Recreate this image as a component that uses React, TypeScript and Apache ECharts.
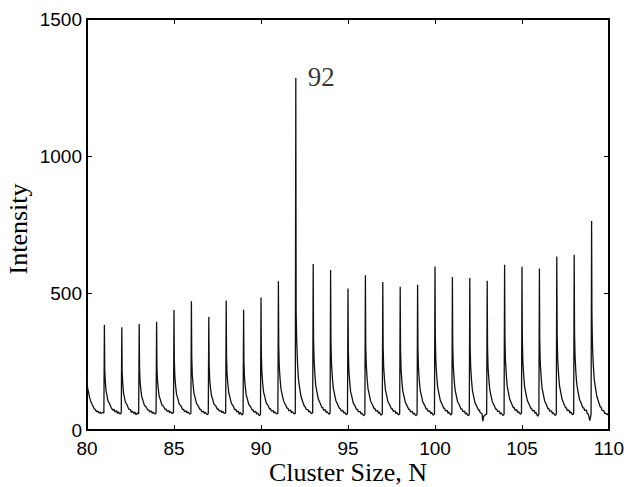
import { useEffect, useRef } from "react";
import * as echarts from "echarts";

// Cluster sizes with a peak, and the peak intensities
const peakSizes = [81, 82, 83, 84, 85, 86, 87, 88, 89, 90, 91, 92, 93, 94, 95, 96, 97, 98, 99, 100, 101, 102, 103, 104, 105, 106, 107, 108, 109];
const peakHeights = [384, 375, 387, 395, 438, 470, 412, 473, 439, 484, 543, 1285, 606, 584, 516, 565, 540, 523, 530, 597, 558, 555, 545, 603, 596, 589, 633, 640, 763];

// Offsets (in N) after each peak at which the decaying tail was read
const tailOffsets = [0.02, 0.05, 0.1, 0.15, 0.2, 0.3, 0.4, 0.5, 0.55, 0.6, 0.7, 0.75, 0.8, 0.9, 0.97];

// Signal at N = 80 and its tail (remnant of the peak at 79)
const startValue = 212;
const leadingTail = [160, 148, 135, 118, 108, 92, 80, 72, 66, 70, 62, 66, 60, 64, 62];

// Tail values after each peak (one row per peak, at tailOffsets)
const peakTails = [
  [220, 180, 140, 126, 106, 96, 80, 72, 76, 66, 70, 60, 66, 58, 63],
  [214, 175, 134, 120, 103, 92, 76, 74, 64, 69, 60, 66, 56, 62, 58],
  [226, 176, 144, 120, 111, 90, 84, 72, 74, 66, 69, 61, 65, 58, 62],
  [230, 180, 148, 122, 114, 92, 86, 74, 77, 68, 71, 63, 67, 60, 64],
  [252, 194, 157, 129, 119, 95, 88, 74, 76, 67, 70, 62, 66, 58, 61],
  [266, 203, 164, 133, 122, 96, 87, 74, 75, 66, 68, 60, 64, 56, 59],
  [240, 186, 152, 126, 117, 94, 88, 75, 77, 69, 71, 63, 68, 60, 63],
  [268, 205, 165, 134, 123, 97, 88, 73, 76, 66, 69, 57, 64, 55, 59],
  [250, 193, 156, 128, 117, 93, 85, 72, 74, 65, 68, 58, 63, 52, 57],
  [275, 210, 168, 138, 126, 99, 90, 76, 78, 69, 71, 62, 66, 59, 61],
  [305, 231, 184, 149, 134, 105, 93, 79, 80, 70, 73, 63, 67, 59, 61],
  [430, 328, 243, 188, 162, 122, 103, 85, 84, 75, 74, 66, 69, 60, 63],
  [335, 254, 200, 161, 144, 112, 98, 82, 82, 72, 74, 64, 67, 58, 61],
  [324, 244, 193, 155, 139, 108, 94, 79, 79, 70, 72, 62, 65, 56, 59],
  [288, 219, 174, 140, 127, 99, 88, 74, 75, 66, 68, 58, 62, 52, 57],
  [312, 236, 187, 151, 136, 105, 93, 78, 79, 69, 71, 61, 65, 54, 59],
  [301, 229, 182, 147, 132, 103, 91, 77, 78, 68, 70, 60, 64, 55, 59],
  [292, 221, 176, 142, 128, 100, 88, 74, 75, 66, 68, 57, 62, 52, 57],
  [296, 225, 179, 145, 131, 102, 91, 76, 78, 68, 70, 60, 64, 54, 59],
  [330, 249, 196, 157, 141, 109, 95, 79, 80, 70, 72, 61, 65, 55, 59],
  [309, 234, 185, 148, 133, 103, 91, 76, 77, 67, 69, 58, 63, 52, 57],
  [306, 230, 181, 145, 129, 99, 87, 72, 73, 63, 60, 32, 50, 56, 58],
  [302, 229, 181, 146, 131, 102, 90, 75, 76, 67, 69, 58, 63, 53, 57],
  [333, 252, 199, 160, 143, 111, 97, 81, 82, 72, 74, 64, 67, 58, 61],
  [329, 249, 196, 157, 141, 109, 95, 79, 80, 70, 72, 61, 64, 50, 58],
  [325, 245, 192, 154, 138, 106, 93, 77, 78, 68, 70, 59, 63, 53, 57],
  [348, 262, 205, 164, 146, 113, 97, 81, 81, 71, 73, 62, 66, 56, 59],
  [351, 265, 207, 166, 147, 113, 98, 81, 81, 71, 73, 60, 60, 34, 58],
  [411, 307, 235, 187, 163, 123, 103, 84, 83, 72, 71, 60, 62, 55, 62],
];

const endSize = 110;
const endValue = 66;

// Axis ranges / ticks
const xMin = 80;
const xMax = 110;
const xStep = 5;
const yMin = 0;
const yMax = 1500;
const yStep = 500;

const labelledPeak = 92;

export default function App() {
  const ref = useRef<HTMLDivElement>(null);

  useEffect(() => {
    const chart = echarts.init(ref.current!, undefined, { renderer: "svg" });

    const points: [number, number][] = [[xMin, startValue]];
    tailOffsets.forEach((o, i) => points.push([xMin + o, leadingTail[i]]));
    peakSizes.forEach((n, k) => {
      points.push([n, peakHeights[k]]);
      tailOffsets.forEach((o, i) => points.push([n + o, peakTails[k][i]]));
    });
    points.push([endSize, endValue]);

    const peakIdx = peakSizes.indexOf(labelledPeak);

    const frameAxis = {
      axisLine: { show: true, onZero: false, lineStyle: { color: "#000", width: 2 } },
      axisTick: { show: true, inside: true, length: 5, lineStyle: { color: "#000", width: 1 } },
      splitLine: { show: false },
    };

    const tickFont = {
      color: "#000",
      fontSize: 19,
      fontFamily: "Liberation Sans, Arial, sans-serif",
      formatter: (v: number) => String(v),
    };

    chart.setOption({
      animation: false,
      backgroundColor: "#fff",
      grid: { left: 87, right: 20, top: 19, bottom: 57, containLabel: false },
      xAxis: [
        {
          type: "value",
          min: xMin,
          max: xMax,
          interval: xStep,
          position: "bottom",
          ...frameAxis,
          axisLabel: { show: true, margin: 9, ...tickFont },
        },
        {
          type: "value",
          min: xMin,
          max: xMax,
          interval: xStep,
          position: "top",
          ...frameAxis,
          axisLabel: { show: false },
        },
      ],
      yAxis: [
        {
          type: "value",
          min: yMin,
          max: yMax,
          interval: yStep,
          position: "left",
          ...frameAxis,
          axisLabel: { show: true, margin: 5, ...tickFont },
        },
        {
          type: "value",
          min: yMin,
          max: yMax,
          interval: yStep,
          position: "right",
          ...frameAxis,
          axisLabel: { show: false },
        },
      ],
      series: [
        {
          type: "line",
          data: points,
          xAxisIndex: 0,
          yAxisIndex: 0,
          showSymbol: false,
          symbol: "none",
          lineStyle: { color: "#111", width: 1.3 },
          silent: true,
        },
        {
          type: "scatter",
          data: [[labelledPeak, peakHeights[peakIdx]]],
          symbolSize: 0,
          silent: true,
          label: {
            show: true,
            position: "right",
            distance: 12,
            offset: [0, -1],
            formatter: String(labelledPeak),
            color: "#000",
            fontSize: 27,
            fontFamily: "Liberation Serif, Times New Roman, serif",
          },
        },
      ],
      graphic: [
        {
          type: "text",
          x: 348,
          y: 472,
          style: {
            text: "Cluster Size, N",
            fill: "#000",
            fontSize: 26,
            fontFamily: "Liberation Serif, Times New Roman, serif",
            align: "center",
            verticalAlign: "middle",
          },
        },
        {
          type: "text",
          x: 18,
          y: 229,
          rotation: Math.PI / 2,
          style: {
            text: "Intensity",
            fill: "#000",
            fontSize: 26,
            fontFamily: "Liberation Serif, Times New Roman, serif",
            align: "center",
            verticalAlign: "middle",
          },
        },
      ],
    });

    return () => chart.dispose();
  }, []);

  return (
    <div
      ref={ref}
      style={{ position: "absolute", left: 0, top: 0, width: 629, height: 487 }}
    />
  );
}
